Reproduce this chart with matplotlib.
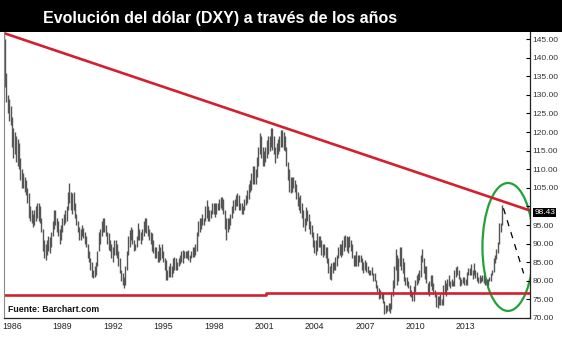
import matplotlib.pyplot as plt
from matplotlib.patches import Ellipse, Rectangle

# Monthly DXY ranges, starting July 1985 (one row = 12 months)
start_year = 1985.5
dxy_high = [
    146.6, 145, 136, 130, 129, 127, 124, 121, 120, 119, 118, 117,
    113, 110, 109, 108, 107, 105, 103.6, 100, 99, 98, 99, 100,
    101, 101, 100, 97, 94, 91, 90, 91, 92, 91.8, 93, 96,
    99, 99, 97, 96, 94, 95, 97, 98, 99, 100, 104, 106.3,
    104, 103.6, 104, 101, 98, 96, 94.5, 94, 95, 94.2, 93, 92,
    90, 88, 86, 85, 83, 84, 85, 88, 93, 94, 96, 97,
    97, 95, 93, 92.8, 91, 90, 89, 91, 91, 90, 88, 86,
    83, 82, 81, 84, 88, 92, 93.7, 94.5, 94, 91, 90, 92,
    95.5, 94, 93, 94, 96, 96.8, 96.8, 95, 94, 93, 92.8, 91,
    89, 89, 88, 90, 89, 90, 88, 86, 85.6, 83, 84, 84.8,
    84, 86, 86.4, 86, 85, 86, 87, 88, 88.3, 88, 88, 88,
    88.3, 87, 88, 89, 89, 90, 93, 96, 97, 97, 98, 97,
    100, 101.7, 100, 99, 99, 101, 101, 100.9, 101, 101, 102, 102.5,
    102.5, 102, 99, 97, 97, 97, 98, 100, 101.7, 102, 103, 103.6,
    103, 101, 101, 100, 102, 103, 104.4, 106, 107, 109, 111, 111,
    110, 113.3, 116, 119.7, 119, 116, 115, 116, 117.8, 119, 119, 121,
    121, 119, 116, 117, 118, 119, 120.5, 120.5, 120, 119, 116, 112,
    110, 108, 108, 108, 107, 106, 104, 102.5, 103, 101, 99, 97,
    99.8, 99, 98, 96, 95, 93, 91, 91, 92.8, 92, 92, 91,
    90, 90, 89, 89, 86, 84, 84.8, 85, 85, 86.4, 87, 89,
    90, 90, 91, 92, 92.3, 92, 91.8, 92, 91, 90, 87, 87,
    88, 87, 87, 87, 86, 85, 85.6, 85, 84, 83, 83, 83.7,
    82, 82, 80.2, 79, 78, 77.5, 77, 76.7, 74.5, 73.5, 73.6, 74,
    74, 77, 80.2, 84, 88.5, 87, 86, 89, 89, 86, 85, 81,
    81, 80, 79, 77.5, 77, 78.5, 80.2, 81.5, 82, 83, 87, 88.5,
    86, 84, 84, 79.5, 80, 81.5, 81.5, 79.5, 77.5, 76.5, 76, 76,
    76.5, 75, 79, 80.2, 79.5, 80.6, 81.5, 80, 80.5, 80, 83, 83.7,
    84, 83, 81, 80.5, 81, 81, 80.5, 82.5, 83.5, 83.5, 84.5, 83,
    84.8, 83, 82.5, 81, 81.5, 81, 81.5, 81.5, 80.5, 80.5, 80.5, 81,
    82, 83, 86, 87, 88.5, 90.5, 95.5, 95.5, 100.4,
]
dxy_low = [
    138, 132, 128, 125, 123, 122, 116, 113, 114, 112, 111, 110,
    107, 105, 105, 104, 103, 101, 97, 96, 95.5, 94.5, 95, 96,
    97, 96, 95.5, 93, 88, 86, 85.6, 87, 88, 87.5, 89, 92,
    94, 95, 93, 92, 90, 91, 93, 95, 95.5, 96, 99, 101,
    99, 98, 99, 97, 95, 93, 91, 91, 92, 91.5, 90, 89,
    86, 85, 83, 81, 80.7, 81, 81.5, 84, 88, 90, 92, 93,
    93, 92, 90, 88.3, 88, 86, 85, 87, 87, 86, 84, 82,
    80, 79, 78, 79, 83, 87, 89, 91, 90, 88, 88.3, 89,
    91, 91, 90, 91, 92, 93, 92.8, 92, 91, 90, 88, 87.5,
    86, 86, 85, 85, 85.6, 86, 85, 83, 80.2, 80.2, 81, 81,
    81, 82, 83, 83, 83, 84, 84.5, 85, 84.8, 86, 86, 86,
    85.6, 85, 86, 86.5, 86.4, 87, 88, 92, 93, 94, 95, 95,
    96, 97, 96, 96, 97, 98, 98, 97.2, 98, 99, 99, 99.5,
    99, 98, 94, 91, 93, 94, 95, 97, 98.2, 99, 100, 100,
    99, 99, 98, 98, 99, 100.5, 100.9, 102, 104, 104.4, 106, 106,
    106, 108, 111, 114, 113, 111, 111, 112, 113, 114, 115, 116,
    115.2, 114, 111.7, 113, 114, 115, 116, 116, 115.2, 115, 111, 107,
    104, 103.6, 104, 105, 104, 102, 100, 99, 98.2, 97, 94.5, 93.5,
    95, 96, 94, 92.5, 91.8, 89, 87.5, 87, 88, 89, 89, 87,
    86.4, 87, 86, 84.8, 82, 80.5, 80.2, 82, 82.9, 83, 84, 86,
    87, 86.4, 87, 88, 89, 88, 87.5, 89, 88, 86, 84, 84,
    84, 84, 85, 85, 83, 82, 83, 82.5, 82, 81.5, 81.5, 81.5,
    80, 80, 78, 77, 75, 75.5, 75, 74, 71, 71.3, 72, 72,
    71.3, 72.5, 76, 78, 83, 79, 80, 84, 83, 82.1, 80, 79,
    78.5, 78, 76, 75.6, 74.5, 74.5, 77, 79, 79.5, 80.2, 81, 85,
    82, 80.5, 79.5, 76.5, 76, 78.5, 77.5, 76.5, 75.6, 73, 72.7, 73.5,
    73.5, 73.5, 73.5, 76.5, 76, 77.5, 78.5, 78, 78.5, 78.5, 78.5, 81,
    81.5, 80.5, 78.6, 79, 79.5, 79, 78.8, 79, 81.5, 81.5, 81.5, 80.5,
    81.5, 80.8, 80, 79.4, 79.5, 79.8, 80, 79.5, 79, 78.9, 78.9, 80,
    80, 81.5, 82.5, 84.8, 85.8, 87.5, 90, 93, 95,
]
months = [start_year + i / 12 for i in range(len(dxy_high))]

# drawn lines: long-term resistance, support and projection
trend_years = [1985.52, 2016.83]
trend_values = [146.6, 98.9]
support_years = [1985.52, 2001.1, 2001.1, 2016.83]
support_values = [76.3, 76.3, 76.6, 76.6]
proj_years = [2015.25, 2016.45]
proj_values = [99.5, 82.0]
last_value = 98.43

year_ticks = [1986, 1989, 1992, 1995, 1998, 2001, 2004, 2007, 2010, 2013]
value_ticks = list(range(70, 150, 5))
# the 100.00 label sits under the last-price tag
value_labels = ['' if v == 100 else f'{v:.2f}' for v in value_ticks]

plt.rcParams['font.family'] = ['Liberation Sans', 'DejaVu Sans']

fig = plt.figure(figsize=(5.62, 3.38), dpi=100)
ax = fig.add_axes([4 / 562, 20 / 338, 526 / 562, 286 / 338])

ax.vlines(months, dxy_low, dxy_high, color='#555555', lw=1.0)
ax.plot(trend_years, trend_values, color='#d3202e', lw=1.9, solid_capstyle='butt')
ax.plot(support_years, support_values, color='#d3202e', lw=1.9, solid_capstyle='butt')
ax.plot(proj_years, proj_values, color='black', lw=0.9, ls=(0, (5, 5)))
ax.add_patch(Ellipse((2015.52, 89.1), 3.04, 34.4, fill=False,
                     edgecolor='#23a03a', lw=1.6))

ax.set_xlim(1985.52, 2016.83)
ax.set_ylim(70, 146.9)

ax.yaxis.tick_right()
ax.set_yticks(value_ticks)
ax.set_yticklabels(value_labels)
ax.tick_params(axis='y', direction='in', length=3, width=0.8, pad=2,
               labelsize=6, labelcolor='#333333')
ax.set_xticks(year_ticks)
ax.tick_params(axis='x', length=0, pad=3, labelsize=6.3, labelcolor='#222222')

ax.spines['top'].set_visible(False)
ax.spines['left'].set_color('#888888')
for s in ['bottom', 'right']:
    ax.spines[s].set_color('#222222')
    ax.spines[s].set_linewidth(0.9)

# last price tag on the right axis
ax.annotate(f'{last_value:.2f}', xy=(1.0, last_value),
            xycoords=('axes fraction', 'data'), xytext=(3, 0),
            textcoords='offset points', va='center', ha='left',
            fontsize=6, color='white',
            bbox=dict(boxstyle='square,pad=0.1', fc='black', ec='none'))

ax.text(4 / 526, (318 - 309) / 286, 'Fuente: Barchart.com', transform=ax.transAxes,
        fontsize=6.3, fontweight='bold', color='#111111', va='center', ha='left')

# title band
fig.patches.append(Rectangle((0, 306 / 338), 1, 32 / 338, transform=fig.transFigure,
                             facecolor='black', edgecolor='none', zorder=0))
fig.text(43 / 562, 1 - 19 / 338, 'Evolución del dólar (DXY) a través de los años',
         fontweight='bold', fontsize=11.5, color='white', va='center', ha='left')

fig.savefig('out.png', dpi=100)
